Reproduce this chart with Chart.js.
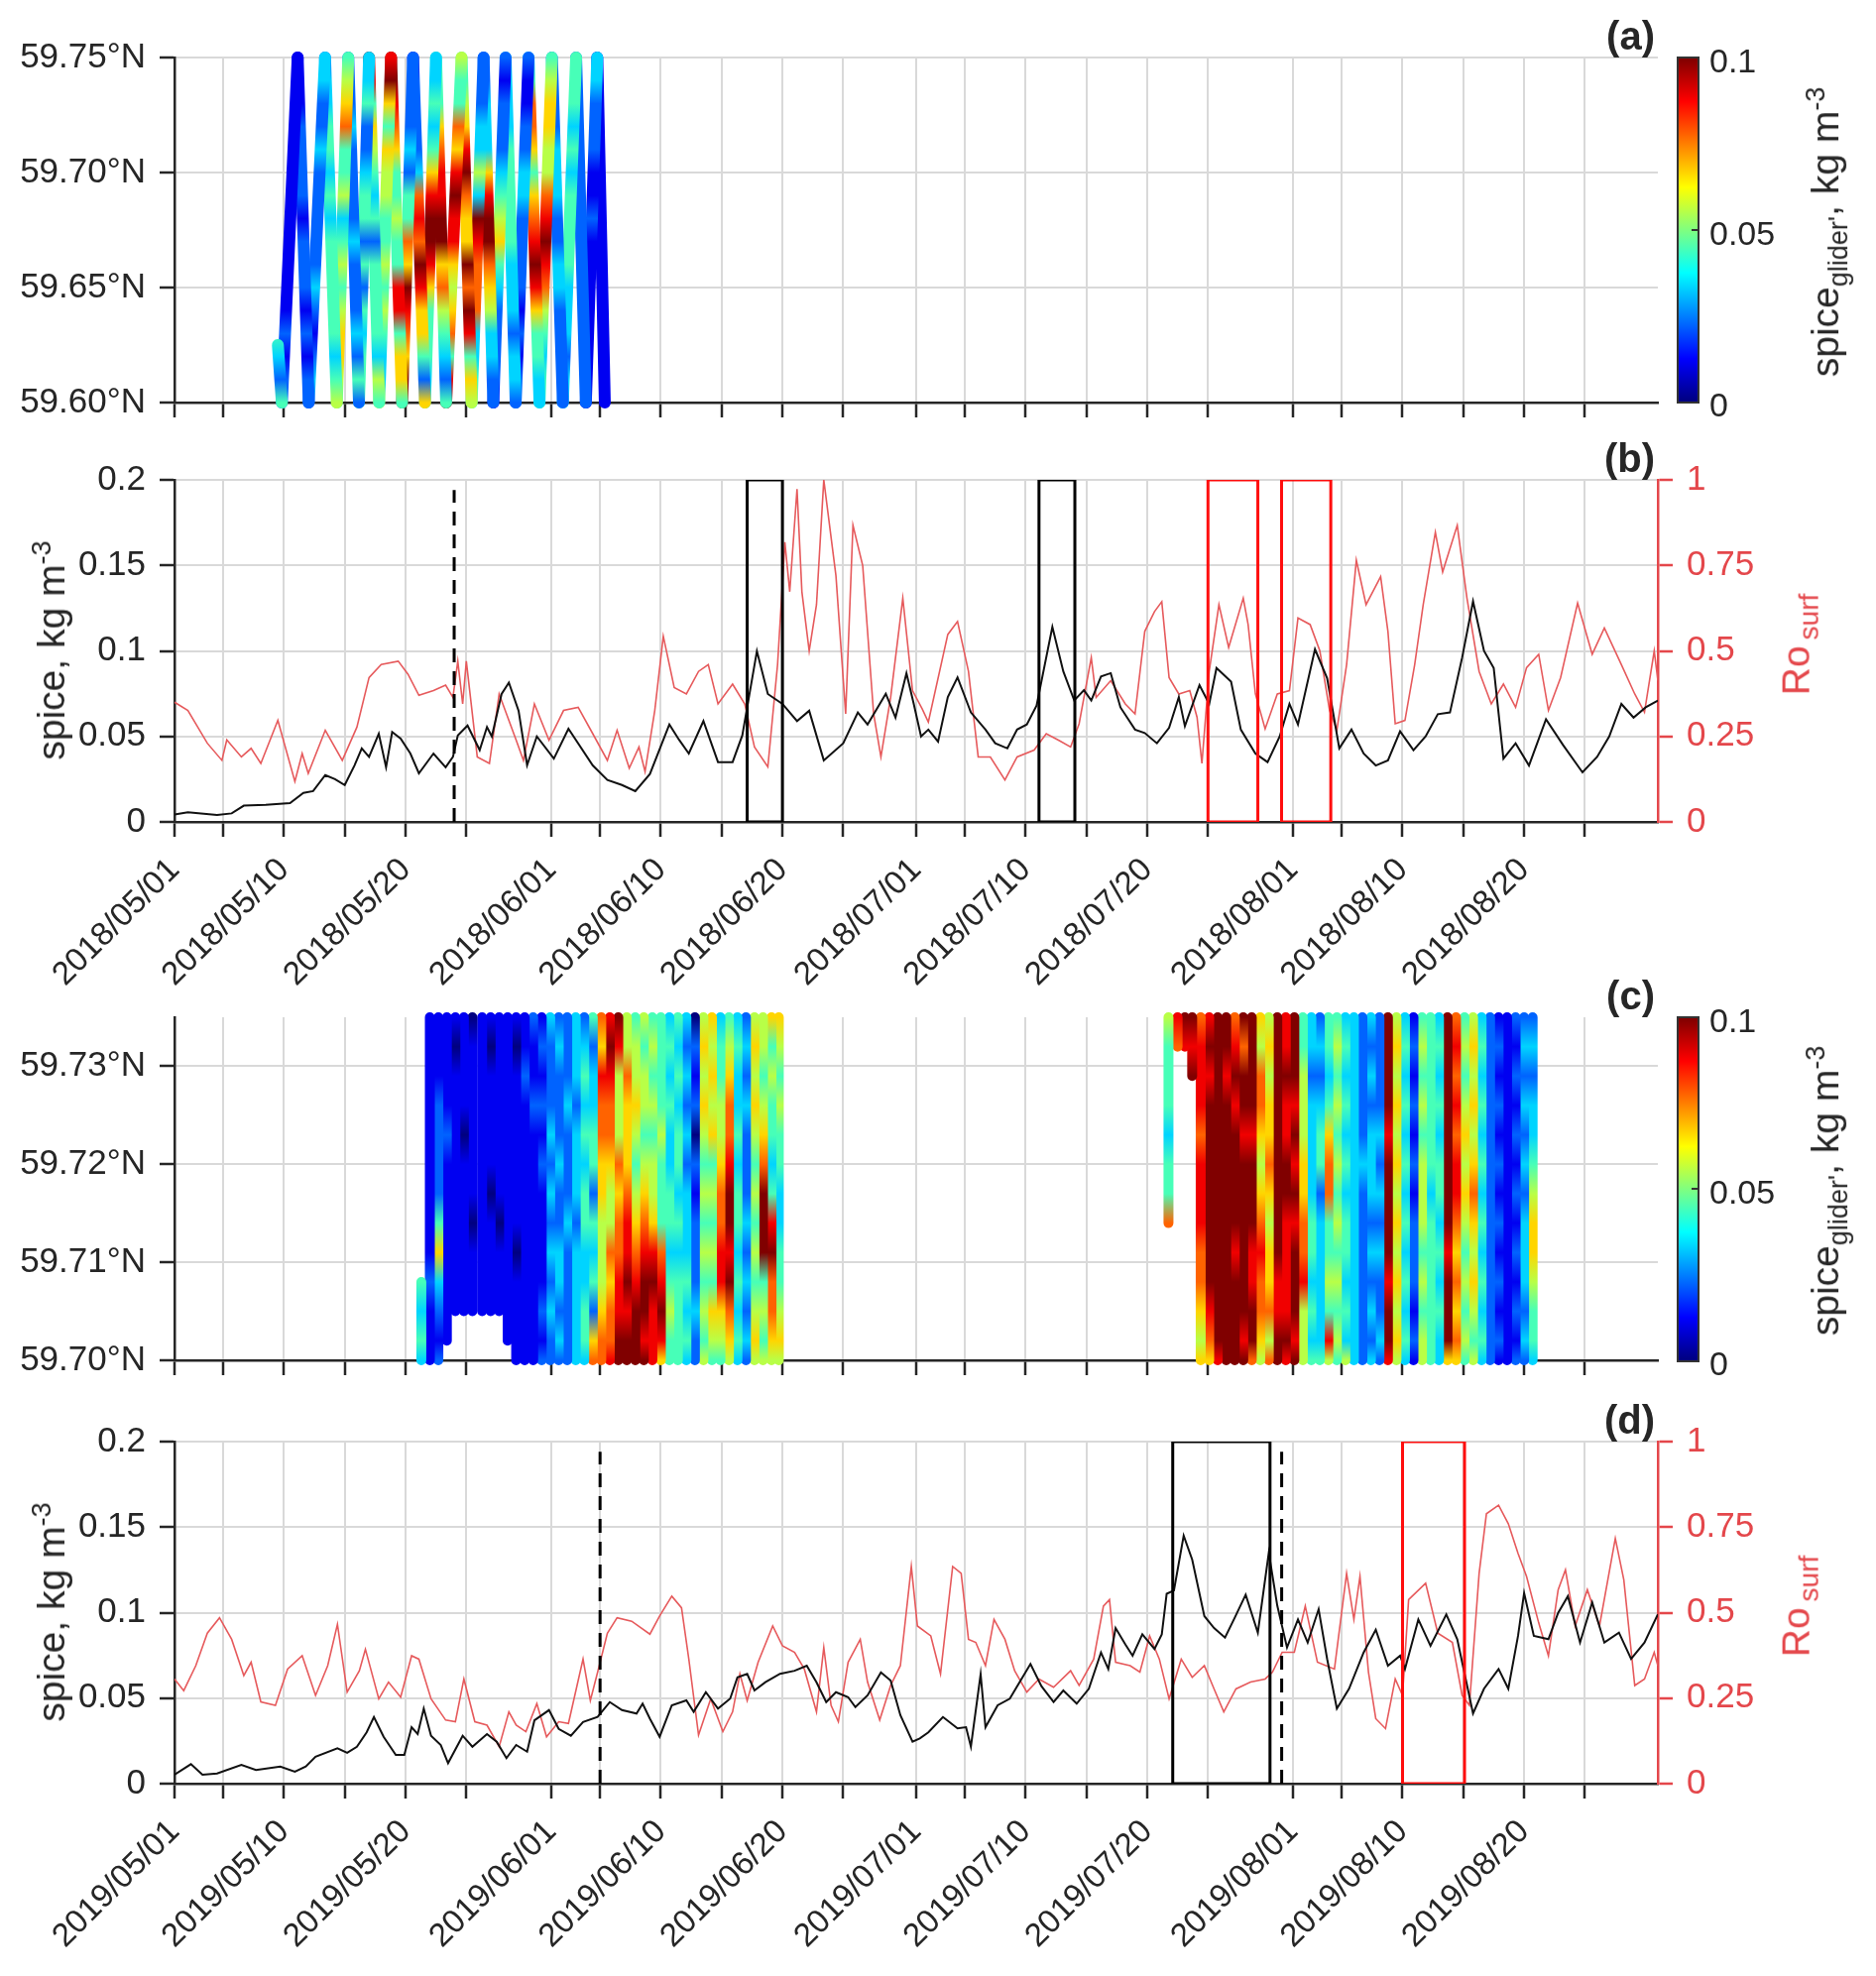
<!DOCTYPE html>
<html>
<head>
<meta charset="utf-8">
<script src="https://cdn.jsdelivr.net/npm/chart.js@4.4.0/dist/chart.umd.min.js"></script>
<style>
body { margin: 0; background: #fff; font-family: "Liberation Sans", Arial, sans-serif; color: #262626; }
#page { position: relative; width: 1892px; height: 1993px; overflow: hidden; }
canvas { position: absolute; left: 0; }
.lbl { position: absolute; white-space: nowrap; transform: translate(-50%, -50%) rotate(-90deg); font-size: 39px; line-height: 1; }
.lbl sub, .lbl sup { font-size: 27px; }
.panel { position: absolute; font-weight: bold; font-size: 40px; line-height: 40px; }
.cbar { position: absolute; left: 1691px; width: 19px; border: 2px solid #333;
  background: linear-gradient(to top, #000080 0%, #0000ff 12.5%, #00ffff 37.5%, #ffff00 62.5%, #ff0000 87.5%, #800000 100%); }
.cbt { position: absolute; left: 1724px; font-size: 34px; line-height: 1; transform: translateY(-50%); }
.cbtick { position: absolute; left: 1706px; width: 6px; height: 2px; background: #333; }
.ro { color: #e4474b; }
.ro sub { margin-left: 6px; font-size: 28px; }
</style>
</head>
<body>
<div id="page">
  <canvas id="chartA" width="1892" height="440" style="top:0px"></canvas>
  <canvas id="chartB" width="1892" height="580" style="top:440px"></canvas>
  <canvas id="chartC" width="1892" height="390" style="top:1020px"></canvas>
  <canvas id="chartD" width="1892" height="583" style="top:1410px"></canvas>

  <div class="panel" style="right:223px;top:16px">(a)</div>
  <div class="panel" style="right:223px;top:442px">(b)</div>
  <div class="panel" style="right:223px;top:984px">(c)</div>
  <div class="panel" style="right:223px;top:1412px">(d)</div>

  <div class="cbar" style="top:57px;height:346px"></div>
  <div class="cbtick" style="top:231px"></div>
  <div class="cbt" style="top:61px">0.1</div>
  <div class="cbt" style="top:235px">0.05</div>
  <div class="cbt" style="top:408px">0</div>
  <div class="lbl" style="left:1843px;top:234px">spice<sub>glider'</sub>, kg m<sup>-3</sup></div>

  <div class="cbar" style="top:1025px;height:345px"></div>
  <div class="cbtick" style="top:1198px"></div>
  <div class="cbt" style="top:1029px">0.1</div>
  <div class="cbt" style="top:1202px">0.05</div>
  <div class="cbt" style="top:1375px">0</div>
  <div class="lbl" style="left:1843px;top:1201px">spice<sub>glider'</sub>, kg m<sup>-3</sup></div>

  <div class="lbl" style="left:50px;top:656px">spice, kg m<sup>-3</sup></div>
  <div class="lbl" style="left:50px;top:1626px">spice, kg m<sup>-3</sup></div>
  <div class="lbl ro" style="left:1815px;top:650px">Ro<sub>surf</sub></div>
  <div class="lbl ro" style="left:1815px;top:1620px">Ro<sub>surf</sub></div>
</div>

<script>
// ---------------- DATA ----------------
// x axis: days since 1 May (same calendar for 2018 and 2019)
const tickDays = [0, 4, 9, 14, 19, 24, 31, 35, 40, 45, 50, 55, 61, 65, 70, 75, 80, 85, 92, 96, 101, 106, 111, 116];
const labels2018 = ["2018/05/01", "", "2018/05/10", "", "2018/05/20", "", "2018/06/01", "", "2018/06/10", "", "2018/06/20", "",
  "2018/07/01", "", "2018/07/10", "", "2018/07/20", "", "2018/08/01", "", "2018/08/10", "", "2018/08/20", ""];
const labels2019 = ["2019/05/01", "", "2019/05/10", "", "2019/05/20", "", "2019/06/01", "", "2019/06/10", "", "2019/06/20", "",
  "2019/07/01", "", "2019/07/10", "", "2019/07/20", "", "2019/08/01", "", "2019/08/10", "", "2019/08/20", ""];
const blankLabels = tickDays.map(() => "");

const latTicksA = [59.60, 59.65, 59.70, 59.75];
const latTicksC = [59.70, 59.71, 59.72, 59.73];
const spiceTicks = [0, 0.05, 0.1, 0.15, 0.2];
const roTicks = [0, 0.25, 0.5, 0.75, 1];

// (a) glider track 2018: turning points and spice codes (0..9 -> 0..0.1 kg m-3) per leg, top -> bottom
const aLats = [59.75, 59.74, 59.73, 59.72, 59.71, 59.70, 59.69, 59.68, 59.67, 59.66, 59.65, 59.64, 59.63, 59.62, 59.61, 59.60];
const aTrackDays = [8.5, 8.83, 10.13, 11.04, 12.38, 13.35, 14.29, 15.17, 16.0, 16.83, 17.81, 18.72, 19.62, 20.6, 21.51,
  22.34, 23.61, 24.44, 25.42, 26.22, 27.23, 28.06, 29.12, 30.02, 31.04, 31.94, 33.03, 33.83, 34.77, 35.39];
const aTrackLats = [59.625, 59.60, 59.75, 59.60, 59.75, 59.60, 59.75, 59.60, 59.75, 59.60, 59.75, 59.60, 59.75, 59.60, 59.75,
  59.60, 59.75, 59.60, 59.75, 59.60, 59.75, 59.60, 59.75, 59.60, 59.75, 59.60, 59.75, 59.60, 59.75, 59.60];
const aLegCodes = [
  "............4324", "1111111111112122", "1112222122212122", "3322322222321232", "2334434344444345",
  "4567445345456654", "2223222232223242", "3342234424243444", "9846543424444354", "8964655445454335",
  "9987644544884664", "2222324476987699", "1222237879866426", "3343468998644434", "4446788996754324",
  "5447689886567489", "4456897669798465", "2223353987773344", "2233368997653322", "2122234564322221",
  "3333444443332332", "2112233222212122", "3477646789864433", "4566557898754344", "2222333223322222",
  "4443434444333233", "2222222222222222", "3322211211111111", "1111111111111111"
];

// (c) glider sections 2019: [day, spice codes top -> bottom on cLats, "." = no data]
const cLats = [59.735, 59.732, 59.729, 59.726, 59.723, 59.720, 59.717, 59.714, 59.711, 59.708, 59.705, 59.702, 59.700];
const cColumns = [
  [20.3, ".........4343"], [21.0, "1111111112111"], [21.7, "1112222463212"], [22.4, "111121111111."],
  [23.1, "10111111111.."], [23.8, "11110111111.."], [24.5, "01111110111.."], [25.3, "11111111111.."],
  [26.0, "10111101111.."], [26.7, "11111110111.."], [27.4, "111111111111."], [28.1, "1011111101111"],
  [28.8, "1121111111111"], [29.5, "2112111111111"], [30.2, "1212121111212"], [30.9, "3222323232322"],
  [31.6, "2322232233232"], [32.3, "2223222322222"], [33.0, "3332333233333"], [33.7, "2343434433443"],
  [34.4, "4233442434267"], [35.1, "7687766555677"], [35.8, "8987765576778"], [36.5, "9855576778899"],
  [37.2, "5576667889899"], [37.9, "4556545678999"], [38.6, "5455456789989"], [39.3, "4545455689888"],
  [40.0, "4444544478986"], [40.7, "3434334434544"], [41.4, "4343443434444"], [42.1, "3232323334343"],
  [42.8, "0212021222322"], [43.5, "5656545454545"], [44.2, "6565645454654"], [44.9, "3445567788654"],
  [45.6, "4567789989765"], [46.3, "3433434434343"], [47.0, "2323222323232"], [47.7, "5656545454565"],
  [48.4, "5545679994545"], [49.1, "6454434897765"], [49.7, "6545443344565"],
  [81.75, "54443447....."], [82.5, "87..........."], [83.1, "98..........."], [83.7, "989.........."],
  [84.4, "7888788877656"], [85.1, "8989999999876"], [85.8, "9999999999998"], [86.5, "9989999999999"],
  [87.2, "7898999989999"], [87.9, "9799899999989"], [88.6, "9999899988997"], [89.3, "6577656787765"],
  [90.0, "5656676566757"], [90.7, "9999999998899"], [91.4, "8898899888898"], [92.1, "9998989899989"],
  [92.8, "4455566778555"], [93.5, "3323333443434"], [94.2, "2323442333334"], [94.9, "4434677445485"],
  [95.6, "4545454545454"], [96.3, "3434343443435"], [97.0, "3333333333333"], [97.7, "2222232222222"],
  [98.4, "3232333232323"], [99.1, "2222323232232"], [99.8, "9999899998998"], [100.5, "5656565656565"],
  [101.2, "3434343434343"], [101.9, "1212121222121"], [102.6, "4545455545455"], [103.3, "4444443444444"],
  [104.0, "3434344343433"], [104.7, "9999999989996"], [105.4, "7878788767676"], [106.1, "4545656545454"],
  [106.8, "5656567656545"], [107.5, "3434343434343"], [108.2, "2222222222222"], [108.9, "1212121212121"],
  [109.6, "1111111111111"], [110.3, "2121212121212"], [111.0, "2323232333232"], [111.7, "2323345665443"]
];

// (b) 2018 time series [day, value]
const spice2018 = [[0,0.0043],[1.1,0.0056],[3.5,0.004],[4.7,0.005],[5.7,0.0095],[7.5,0.010],[9.5,0.011],[10.6,0.017],[11.4,0.018],
  [12.4,0.0274],[13.2,0.025],[14,0.0216],[14.8,0.033],[15.4,0.043],[16.0,0.038],[16.8,0.0516],[17.4,0.032],[17.9,0.0526],
  [18.6,0.0487],[19.4,0.040],[20.1,0.0284],[21.3,0.040],[22.3,0.032],[22.9,0.038],[23.3,0.0506],[24.1,0.0564],[25.1,0.042],
  [25.7,0.0555],[26.1,0.050],[26.9,0.0748],[27.5,0.0815],[28.3,0.065],[29.0,0.0332],[29.8,0.050],[31.2,0.037],[32.4,0.0545],
  [34.4,0.033],[35.6,0.0245],[36.8,0.0216],[37.9,0.018],[39.1,0.028],[40.7,0.057],[41.5,0.048],[42.3,0.040],[43.5,0.059],
  [44.7,0.035],[45.9,0.035],[46.7,0.0506],[47.9,0.0999],[48.8,0.0748],[50.0,0.069],[51.2,0.059],[52.2,0.065],[53.4,0.036],
  [55.0,0.046],[56.2,0.064],[57.0,0.057],[58.5,0.075],[59.3,0.061],[60.2,0.087],[60.8,0.069],[61.4,0.050],[62.0,0.054],
  [62.8,0.047],[63.6,0.073],[64.4,0.0845],[65.5,0.064],[66.7,0.054],[67.5,0.046],[68.5,0.043],[69.3,0.054],[70.1,0.057],
  [70.9,0.068],[72.2,0.114],[73.1,0.088],[74.0,0.071],[74.8,0.077],[75.4,0.071],[76.2,0.085],[77.0,0.087],[77.8,0.067],
  [79.0,0.054],[79.8,0.052],[80.8,0.046],[81.8,0.055],[82.6,0.073],[83.1,0.056],[84.3,0.080],[85.1,0.069],[85.7,0.090],
  [86.9,0.082],[87.7,0.054],[88.9,0.040],[89.9,0.035],[90.9,0.050],[91.7,0.069],[92.4,0.057],[93.8,0.101],[94.8,0.084],
  [95.8,0.043],[96.8,0.054],[97.8,0.040],[98.8,0.033],[99.8,0.036],[100.8,0.053],[101.9,0.042],[102.9,0.050],[103.9,0.063],
  [104.9,0.064],[105.9,0.096],[106.8,0.129],[107.7,0.100],[108.5,0.090],[109.3,0.037],[110.3,0.046],[111.4,0.033],
  [112.8,0.060],[114.2,0.045],[115.8,0.029],[117.0,0.038],[118.0,0.050],[119.0,0.069],[120.0,0.061],[121.0,0.067],[122,0.071]];
const ro2018 = [[0,0.35],[1.1,0.326],[2.7,0.23],[3.9,0.18],[4.3,0.24],[5.5,0.19],[6.3,0.215],[7.1,0.171],[8.5,0.297],
  [9.9,0.118],[10.5,0.20],[11.0,0.142],[12.4,0.268],[13.8,0.18],[15.0,0.277],[16.0,0.422],[17.0,0.46],[18.4,0.47],
  [19.2,0.432],[20.1,0.37],[21.3,0.384],[22.3,0.40],[22.9,0.364],[23.3,0.47],[23.7,0.345],[24.0,0.47],[24.9,0.19],
  [25.9,0.171],[26.7,0.374],[28.1,0.239],[28.7,0.18],[29.6,0.345],[30.8,0.239],[32.0,0.326],[33.2,0.335],[34.4,0.258],
  [35.6,0.18],[36.4,0.268],[37.4,0.157],[38.2,0.219],[38.7,0.147],[39.5,0.326],[40.2,0.543],[41.1,0.393],[42.1,0.374],
  [43.1,0.44],[43.9,0.46],[44.7,0.345],[45.9,0.403],[46.9,0.345],[47.7,0.219],[48.8,0.161],[49.6,0.46],[50.2,0.818],
  [50.6,0.673],[51.2,0.973],[51.6,0.673],[52.2,0.50],[52.8,0.635],[53.4,1.0],[54.4,0.72],[55.2,0.316],[55.8,0.867],
  [56.6,0.75],[57.5,0.316],[58.1,0.19],[58.9,0.364],[59.9,0.654],[60.7,0.384],[61.5,0.33],[62.0,0.292],[63.6,0.548],
  [64.4,0.586],[65.3,0.44],[66.1,0.19],[67.1,0.19],[68.3,0.123],[69.3,0.19],[70.7,0.21],[71.7,0.258],[72.7,0.239],
  [73.7,0.219],[74.4,0.287],[75.4,0.48],[75.8,0.364],[77.0,0.413],[78.2,0.345],[79.0,0.316],[79.8,0.557],[80.6,0.615],
  [81.2,0.644],[81.8,0.422],[82.6,0.374],[83.5,0.384],[84.1,0.306],[84.5,0.171],[85.1,0.44],[85.9,0.635],[86.7,0.51],
  [87.9,0.654],[88.3,0.577],[88.9,0.374],[89.7,0.272],[90.7,0.374],[91.7,0.384],[92.4,0.596],[93.4,0.577],[94.2,0.50],
  [95.0,0.326],[95.6,0.268],[96.4,0.46],[97.2,0.765],[98.0,0.635],[99.2,0.717],[99.8,0.557],[100.4,0.287],[101.2,0.297],
  [102.0,0.46],[102.7,0.635],[103.7,0.847],[104.3,0.731],[105.5,0.867],[106.3,0.654],[107.3,0.44],[108.3,0.345],
  [109.3,0.403],[110.3,0.335],[111.2,0.451],[112.2,0.49],[113.0,0.326],[114.0,0.422],[115.4,0.64],[116.6,0.49],
  [117.6,0.567],[119.0,0.46],[120.1,0.374],[120.9,0.321],[121.7,0.50],[122,0.413]];
const blackBoxes2018 = [[47.1, 50.0], [71.1, 74.05]];
const redBoxes2018 = [[85.0, 89.1], [91.05, 95.1]];
const dashes2018 = [23.0];

// (d) 2019 time series [day, value]
const spice2019 = [[0,0.0052],[1.35,0.0114],[2.3,0.0052],[3.5,0.006],[5.5,0.011],[6.7,0.008],[8.7,0.010],[9.9,0.007],
  [10.8,0.010],[11.6,0.0158],[13.4,0.0207],[14.2,0.018],[15.0,0.0216],[15.8,0.030],[16.4,0.039],[17.2,0.0274],[18.2,0.0168],
  [18.9,0.0168],[19.5,0.033],[20.0,0.029],[20.5,0.0439],[21.1,0.028],[21.9,0.0226],[22.5,0.012],[23.7,0.028],[24.5,0.0216],
  [25.7,0.029],[26.5,0.0245],[27.3,0.0149],[28.1,0.0226],[29.0,0.0187],[29.6,0.037],[30.8,0.043],[31.6,0.032],[32.6,0.028],
  [33.6,0.036],[34.8,0.039],[35.8,0.0477],[36.8,0.043],[38.0,0.041],[38.5,0.0468],[39.1,0.038],[39.9,0.0274],[40.9,0.0458],
  [42.1,0.0487],[42.7,0.042],[43.7,0.0535],[44.7,0.0439],[45.7,0.0497],[46.3,0.0622],[47.1,0.0642],[47.7,0.0545],
  [48.6,0.0593],[49.8,0.0642],[51.0,0.066],[52.0,0.069],[52.8,0.0593],[53.6,0.0477],[54.4,0.0535],[55.4,0.0506],
  [56.0,0.0448],[57.0,0.0516],[58.1,0.0651],[58.9,0.0603],[59.7,0.040],[60.7,0.0245],[61.3,0.0265],[62.0,0.030],
  [63.2,0.039],[64.4,0.0323],[65.1,0.033],[65.5,0.0216],[66.3,0.064],[66.7,0.033],[67.7,0.0458],[68.7,0.0497],[69.5,0.0593],
  [70.4,0.070],[71.3,0.057],[72.3,0.0477],[73.1,0.0545],[74.2,0.0468],[75.2,0.0555],[76.2,0.0767],[76.8,0.067],[77.4,0.091],
  [78.2,0.0815],[78.8,0.0748],[79.6,0.0873],[80.6,0.0787],[81.2,0.0873],[81.6,0.111],[82.2,0.113],[83.0,0.145],[83.7,0.131],
  [84.7,0.098],[85.5,0.091],[86.4,0.0854],[87.2,0.097],[88.1,0.1105],[89.1,0.0883],[90.0,0.135],[90.7,0.104],[91.5,0.0796],
  [92.4,0.096],[93.2,0.0825],[94.1,0.102],[94.8,0.0729],[95.6,0.0439],[96.6,0.0555],[97.8,0.0767],[98.8,0.090],[99.8,0.069],
  [100.8,0.0748],[101.2,0.067],[102.3,0.096],[103.3,0.0806],[104.6,0.099],[105.5,0.0845],[106.8,0.041],[107.7,0.0555],
  [108.9,0.067],[109.7,0.0555],[110.5,0.0864],[111.0,0.1115],[111.8,0.0864],[113.0,0.0845],[113.8,0.0999],[114.6,0.1096],
  [115.6,0.0825],[116.6,0.106],[117.6,0.0825],[118.8,0.0883],[119.8,0.0729],[120.9,0.0825],[122,0.099]];
const ro2019 = [[0,0.306],[0.76,0.272],[1.75,0.345],[2.7,0.44],[3.7,0.485],[4.7,0.422],[5.7,0.316],[6.3,0.355],[7.1,0.239],
  [8.3,0.229],[9.3,0.335],[10.5,0.374],[11.6,0.258],[12.6,0.345],[13.4,0.466],[14.2,0.268],[15.2,0.33],[15.7,0.393],
  [16.8,0.248],[17.6,0.297],[18.6,0.253],[19.5,0.374],[20.1,0.364],[21.1,0.248],[22.3,0.186],[23.1,0.181],[23.8,0.306],
  [24.7,0.181],[25.7,0.171],[26.7,0.108],[27.5,0.21],[28.1,0.171],[28.9,0.152],[29.8,0.234],[30.6,0.137],[31.6,0.181],
  [32.4,0.176],[33.6,0.364],[34.2,0.243],[34.8,0.326],[35.6,0.44],[36.4,0.485],[37.6,0.475],[39.1,0.437],[39.9,0.49],
  [40.9,0.548],[41.7,0.514],[42.3,0.364],[43.1,0.142],[44.1,0.248],[45.1,0.152],[45.9,0.21],[46.5,0.321],[47.1,0.243],
  [48.0,0.355],[49.2,0.461],[50.0,0.403],[51.0,0.384],[51.8,0.335],[52.8,0.21],[53.4,0.398],[54.0,0.229],[54.6,0.181],
  [55.4,0.355],[56.4,0.422],[57.0,0.297],[58.0,0.186],[58.9,0.287],[59.7,0.345],[60.6,0.635],[61.1,0.461],[62.2,0.432],
  [63.0,0.321],[64.0,0.635],[64.7,0.615],[65.3,0.422],[65.9,0.413],[66.7,0.345],[67.4,0.48],[68.3,0.422],[69.1,0.33],
  [70.1,0.268],[71.1,0.306],[72.3,0.282],[73.7,0.33],[74.4,0.287],[75.6,0.364],[76.4,0.519],[76.9,0.538],[77.4,0.355],
  [78.6,0.345],[79.4,0.326],[80.2,0.432],[81.0,0.364],[81.8,0.248],[82.8,0.364],[83.7,0.311],[84.7,0.345],[85.5,0.277],
  [86.3,0.21],[87.3,0.277],[88.5,0.297],[89.7,0.306],[90.3,0.326],[91.1,0.384],[92.1,0.384],[93.0,0.519],[94.0,0.355],
  [95.4,0.335],[96.4,0.615],[97.0,0.48],[97.5,0.606],[98.2,0.326],[98.8,0.19],[99.6,0.161],[100.4,0.306],[101.0,0.258],
  [101.5,0.538],[102.9,0.586],[103.9,0.44],[105.1,0.413],[105.9,0.258],[106.5,0.229],[107.3,0.615],[107.9,0.789],
  [108.9,0.814],[109.7,0.76],[110.5,0.673],[111.2,0.606],[112.2,0.47],[113.0,0.374],[113.8,0.567],[114.4,0.625],
  [115.2,0.461],[116.2,0.567],[117.2,0.461],[118.5,0.717],[119.2,0.596],[120.1,0.287],[120.9,0.306],[121.7,0.384],[122,0.345]];
const blackBoxes2019 = [[82.1, 90.1]];
const redBoxes2019 = [[101.0, 106.1]];
const dashes2019 = [35.0, 91.06];

// ---------------- STYLE ----------------
const INK = "#262626";
const GRID = "#d9d9d9";
const RO_RED = "#e4474b";
Chart.defaults.font.family = '"Liberation Sans", Arial, sans-serif';
Chart.defaults.color = INK;

function jet(t) {
  const c = v => Math.round(Math.min(Math.max(v, 0), 1) * 255);
  return `rgb(${c(1.5 - Math.abs(4 * t - 3))},${c(1.5 - Math.abs(4 * t - 2))},${c(1.5 - Math.abs(4 * t - 1))})`;
}
const codeColor = ch => jet(Number(ch) / 9);

function legGradient(chart, lats, codes) {
  const y = chart.scales.y;
  if (!chart.chartArea || !y) return "#3060ff";
  const stops = [];
  for (let i = 0; i < codes.length; i++) {
    if (codes[i] !== ".") stops.push([y.getPixelForValue(lats[i]), codes[i]]);
  }
  const top = stops[0][0], bot = stops[stops.length - 1][0];
  if (!isFinite(top) || !isFinite(bot) || bot - top < 1) return codeColor(stops[0][1]);
  const g = chart.ctx.createLinearGradient(0, top, 0, bot);
  stops.forEach(([py, ch]) => g.addColorStop((py - top) / (bot - top), codeColor(ch)));
  return g;
}

function legSet(x0, y0, x1, y1, lats, codes, width) {
  return {
    data: [{ x: x0, y: y0 }, { x: x1, y: y1 }],
    showLine: true, pointRadius: 0, borderWidth: width, borderCapStyle: "round", clip: false,
    borderColor: ctx => legGradient(ctx.chart, lats, codes)
  };
}

function xScale(labels, height) {
  return {
    type: "linear", min: 0, max: 122,
    afterBuildTicks: s => { s.ticks = tickDays.map(v => ({ value: v })); },
    afterFit: s => { s.height = height; },
    ticks: { autoSkip: false, minRotation: 45, maxRotation: 45, padding: 14, color: INK,
      font: { size: 33 }, callback: (v, i) => labels[i] },
    grid: { color: GRID, lineWidth: 2, tickColor: INK, tickWidth: 2.5, tickLength: 15 },
    border: { color: INK, width: 2.5 }
  };
}

function yScale(min, max, ticks, fmt, width, color, position, onArea) {
  return {
    type: "linear", position, min, max,
    afterBuildTicks: s => { s.ticks = ticks.map(v => ({ value: v })); },
    // fixed axis width, and no extra label padding so the plot area sits exactly at the layout padding
    afterFit: s => { s.width = width; s.paddingTop = 0; s.paddingBottom = 0; },
    ticks: { color, font: { size: 35 }, padding: 14, callback: fmt },
    grid: { color: GRID, lineWidth: 2, drawOnChartArea: onArea, tickColor: color, tickWidth: 2.5, tickLength: 15 },
    border: { color, width: 2.5 }
  };
}

function baseOptions(padding, scales) {
  return {
    responsive: false, animation: false, devicePixelRatio: 1, events: [],
    layout: { padding },
    plugins: { legend: { display: false }, tooltip: { enabled: false } },
    scales
  };
}

// ---------------- PANEL (a) ----------------
const setsA = [];
for (let i = 0; i < aLegCodes.length; i++) {
  setsA.push(legSet(aTrackDays[i], aTrackLats[i], aTrackDays[i + 1], aTrackLats[i + 1], aLats, aLegCodes[i], 12));
}
new Chart(document.getElementById("chartA"), {
  type: "scatter",
  data: { datasets: setsA },
  options: baseOptions({ top: 58, right: 220, left: 0, bottom: 0 }, {
    x: xScale(blankLabels, 34),
    y: yScale(59.60, 59.75, latTicksA, v => v.toFixed(2) + "°N", 176, INK, "left", true)
  })
});

// ---------------- PANEL (c) ----------------
const setsC = cColumns.map(([day, codes]) => {
  let first = 0, last = codes.length - 1;
  while (codes[first] === ".") first++;
  while (codes[last] === ".") last--;
  return legSet(day, cLats[first], day, cLats[last], cLats, codes, 10);
});
new Chart(document.getElementById("chartC"), {
  type: "scatter",
  data: { datasets: setsC },
  options: baseOptions({ top: 6, right: 220, left: 0, bottom: 0 }, {
    x: xScale(blankLabels, 38),
    y: yScale(59.70, 59.735, latTicksC, v => v.toFixed(2) + "°N", 176, INK, "left", true)
  })
});

// ---------------- PANELS (b) & (d) ----------------
function lineSet(pairs, color, width, axis, order) {
  return { data: pairs.map(([x, y]) => ({ x, y })), showLine: true, pointRadius: 0, tension: 0,
    borderColor: color, borderWidth: width, yAxisID: axis, order };
}
function boxSet([t0, t1], color) {
  return { data: [{ x: t0, y: 0 }, { x: t0, y: 0.2 }, { x: t1, y: 0.2 }, { x: t1, y: 0 }, { x: t0, y: 0 }],
    showLine: true, pointRadius: 0, borderColor: color, borderWidth: 3, yAxisID: "y", order: 0 };
}
function dashSet(day) {
  return { data: [{ x: day, y: 0 }, { x: day, y: 0.194 }], showLine: true, pointRadius: 0,
    borderColor: "#000", borderWidth: 3, borderDash: [14, 9], yAxisID: "y", order: 1 };
}

function seriesChart(id, spice, ro, blackBoxes, redBoxes, dashes, labels, axisHeight) {
  const datasets = [
    ...blackBoxes.map(b => boxSet(b, "#000")),
    ...redBoxes.map(b => boxSet(b, "#ff0d0d")),
    ...dashes.map(dashSet),
    lineSet(spice, "#111", 2, "y", 2),
    lineSet(ro, "#e65a5c", 1.6, "y1", 3)
  ];
  new Chart(document.getElementById(id), {
    type: "scatter",
    data: { datasets },
    options: baseOptions({ top: 44, right: 0, left: 0, bottom: 0 }, {
      x: xScale(labels, axisHeight),
      y: yScale(0, 0.2, spiceTicks, v => String(v), 176, INK, "left", true),
      y1: yScale(0, 1, roTicks, v => String(v), 220, RO_RED, "right", false)
    })
  });
}

seriesChart("chartB", spice2018, ro2018, blackBoxes2018, redBoxes2018, dashes2018, labels2018, 191);
seriesChart("chartD", spice2019, ro2019, blackBoxes2019, redBoxes2019, dashes2019, labels2019, 194);
</script>
</body>
</html>
